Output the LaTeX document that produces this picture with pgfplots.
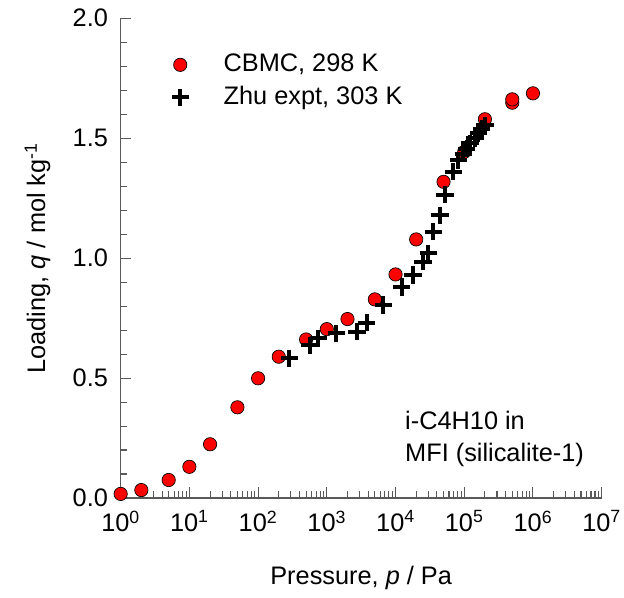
\documentclass[border=0pt]{standalone}
\usepackage{pgfplots}
\pgfplotsset{compat=1.18}
\usepackage{fontspec}
\setmainfont{Liberation Sans}
\begin{document}
\fontsize{19}{24}\selectfont
\begin{tikzpicture}
\useasboundingbox (-90.5pt,-75pt) rectangle (377.5pt,373.5pt);
\begin{axis}[
  scale only axis, width=360.75pt, height=359.8pt,
  xmode=log, xmin=1, xmax=1e7, ymin=0, ymax=2,
  axis x line*=bottom, axis y line*=left,
  axis line style={-, draw=gray!70!black, line width=0.8pt},
  tick style={draw=gray!70!black, line width=0.8pt},
  tick align=inside,
  major tick length=8pt, minor tick length=5pt,
  xtick={1,10,100,1000,10000,100000,1000000,10000000},
  xticklabels={10\textsuperscript{0},10\textsuperscript{1},10\textsuperscript{2},10\textsuperscript{3},10\textsuperscript{4},10\textsuperscript{5},10\textsuperscript{6},10\textsuperscript{7}},
  ytick={0,0.5,1,1.5,2},
  yticklabels={0.0,0.5,1.0,1.5,2.0},
  minor y tick num=4,
  yticklabel style={xshift=-3pt},
  xticklabel style={yshift=-3pt},
  xlabel={Pressure, \textit{p} / Pa},
  ylabel={Loading, \textit{q} / mol kg\textsuperscript{-1}},
  x label style={at={(axis description cs:0.5,-0.181)}, anchor=base},
  y label style={at={(axis description cs:-0.157,0.5)}, anchor=base},
  legend style={draw=none, fill=none, at={(rel axis cs:0.097,0.937)}, anchor=north west, row sep=4pt, column sep=24pt},
  legend cell align=left,
  clip=false,
]
\addplot[only marks, mark=*, mark size=5pt, mark options={fill=red, draw=black, line width=0.5pt}] coordinates {
(1,0.017) (2,0.033) (5,0.075) (10,0.13) (20,0.224) (50,0.378) (100,0.499) (200,0.589)
(500,0.661) (1000,0.704) (2000,0.746) (5000,0.828) (1e4,0.932) (2e4,1.078) (5e4,1.318)
(1e5,1.443) (2e5,1.579) (5e5,1.648) (5e5,1.662) (1e6,1.687)
};
\addlegendentry{CBMC, 298 K}
\addplot[only marks, mark=+, mark size=6.5pt, mark options={draw=black, line width=3pt}] coordinates {
(285,0.582) (560,0.637) (755,0.665) (1380,0.686) (2750,0.693) (3800,0.731) (6650,0.804)
(1.23e4,0.880) (1.8e4,0.929) (2.5e4,0.985) (3e4,1.02) (3.55e4,1.11) (4.45e4,1.179)
(5.25e4,1.265) (6.9e4,1.36) (8.2e4,1.408) (9.7e4,1.436) (1.09e5,1.457) (1.21e5,1.478)
(1.44e5,1.499) (1.6e5,1.52) (1.8e5,1.54) (2e5,1.554)
};
\addlegendentry{Zhu expt, 303 K}
\node[anchor=north west, align=left, inner sep=0pt] at (rel axis cs:0.591,0.182) {i-C4H10 in\\MFI (silicalite-1)};
\end{axis}
\end{tikzpicture}
\end{document}
